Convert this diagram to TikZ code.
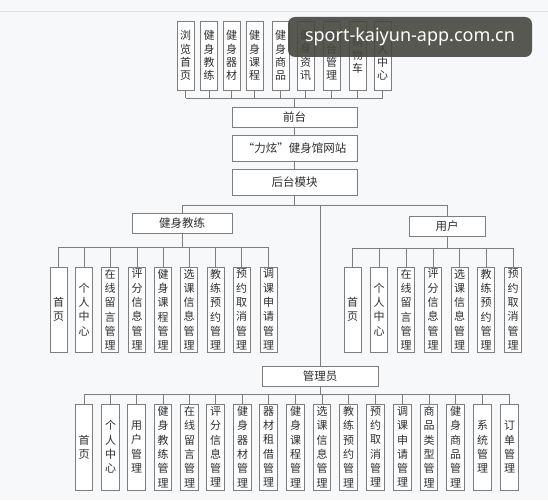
\documentclass[tikz,border=0pt]{standalone}
\usepackage{fontspec}
\newfontfamily\cjk{Noto Sans CJK SC}
\newfontfamily\wmfont{Noto Sans}
\definecolor{bg}{HTML}{F7F8F9}
\definecolor{ln}{HTML}{7E7E7E}
\definecolor{tx}{HTML}{2E2E2E}
\definecolor{wm}{HTML}{45473F}
\tikzset{
  box/.style={draw=ln, line width=0.8pt, fill=white, inner sep=0pt, text=tx,
    font=\cjk\fontsize{11}{14.3}\selectfont, align=center},
  vbox/.style={box, minimum width=17pt, minimum height=85pt},
  tbox/.style={box, minimum width=17pt, minimum height=69pt, font=\cjk\fontsize{11}{13.3}\selectfont},
  abox/.style={box, minimum width=17.5pt, minimum height=86pt},
  hbox/.style={box, minimum height=20pt, font=\cjk\fontsize{11.5}{14}\selectfont},
  conn/.style={draw=ln, line width=0.8pt},
}
\begin{document}
\begin{tikzpicture}[x=1pt,y=-1pt]
\fill[bg] (0,0) rectangle (548,500);
\useasboundingbox (0,0) rectangle (548,500);
\draw[black!12, line width=0.8pt] (0,11) -- (548,11);
% top row
\node[tbox] (t1) at (185.5,55.5) {浏\\览\\首\\页};
\node[tbox] (t2) at (209,55.5) {健\\身\\教\\练};
\node[tbox] (t3) at (231.5,55.5) {健\\身\\器\\材};
\node[tbox] (t4) at (254.5,55.5) {健\\身\\课\\程};
\node[tbox] (t5) at (280.5,55.5) {健\\身\\商\\品};
\node[tbox] (t6) at (305.5,55.5) {健\\身\\资\\讯};
\node[tbox] (t7) at (331.5,55.5) {后\\台\\管\\理};
\node[tbox] (t8) at (357.5,55.5) {购\\物\\车};
\node[tbox] (t9) at (382.5,55.5) {个\\人\\中\\心};
% spine
\node[hbox, minimum width=125pt] (qt) at (294.5,117) {前台};
\node[hbox, minimum width=125pt, minimum height=26pt] (site) at (294.5,148) {“力炫”健身馆网站};
\node[hbox, minimum width=125pt, minimum height=26pt] (ht) at (294.5,182) {后台模块};
\node[hbox, minimum width=100pt] (coach) at (182,223) {健身教练};
\node[hbox, minimum width=76pt] (user) at (447,226) {用户};
\node[hbox, minimum width=116pt] (admin) at (320,376) {管理员};
% coach children
\node[vbox] (c1) at (58.5,309.5) {首\\页};
\node[vbox] (c2) at (84,309.5) {个\\人\\中\\心};
\node[vbox] (c3) at (110,309.5) {在\\线\\留\\言\\管\\理};
\node[vbox] (c4) at (137,309.5) {评\\分\\信\\息\\管\\理};
\node[vbox] (c5) at (163,309.5) {健\\身\\课\\程\\管\\理};
\node[vbox] (c6) at (189,309.5) {选\\课\\信\\息\\管\\理};
\node[vbox] (c7) at (215.5,309.5) {教\\练\\预\\约\\管\\理};
\node[vbox] (c8) at (241.5,309.5) {预\\约\\取\\消\\管\\理};
\node[vbox] (c9) at (268.5,309.5) {调\\课\\申\\请\\管\\理};
% user children
\node[vbox] (u1) at (352.5,309.5) {首\\页};
\node[vbox] (u2) at (379,309.5) {个\\人\\中\\心};
\node[vbox] (u3) at (406,309.5) {在\\线\\留\\言\\管\\理};
\node[vbox] (u4) at (433,309.5) {评\\分\\信\\息\\管\\理};
\node[vbox] (u5) at (459.5,309.5) {选\\课\\信\\息\\管\\理};
\node[vbox] (u6) at (486,309.5) {教\\练\\预\\约\\管\\理};
\node[vbox] (u7) at (513,309.5) {预\\约\\取\\消\\管\\理};
% admin children
\node[abox] (a1) at (84,447) {首\\页};
\node[abox] (a2) at (110.5,447) {个\\人\\中\\心};
\node[abox] (a3) at (136.5,447) {用\\户\\管\\理};
\node[abox] (a4) at (163,447) {健\\身\\教\\练\\管\\理};
\node[abox] (a5) at (189.5,447) {在\\线\\留\\言\\管\\理};
\node[abox] (a6) at (215.5,447) {评\\分\\信\\息\\管\\理};
\node[abox] (a7) at (242.5,447) {健\\身\\器\\材\\管\\理};
\node[abox] (a8) at (268.5,447) {器\\材\\租\\借\\管\\理};
\node[abox] (a9) at (295.5,447) {健\\身\\课\\程\\管\\理};
\node[abox] (a10) at (322,447) {选\\课\\信\\息\\管\\理};
\node[abox] (a11) at (348.5,447) {教\\练\\预\\约\\管\\理};
\node[abox] (a12) at (375.5,447) {预\\约\\取\\消\\管\\理};
\node[abox] (a13) at (402.5,447) {调\\课\\申\\请\\管\\理};
\node[abox] (a14) at (429,447) {商\\品\\类\\型\\管\\理};
\node[abox] (a15) at (455.5,447) {健\\身\\商\\品\\管\\理};
\node[abox] (a16) at (482.5,447) {系\\统\\管\\理};
\node[abox] (a17) at (509.5,447) {订\\单\\管\\理};
% bus coordinates
\coordinate (bt) at (294.5,98);
\coordinate (bh) at (294.5,205);
\coordinate (bc) at (182,247);
\coordinate (bu) at (447,248);
\coordinate (ba) at (320,394);
% top connectors
\foreach \i in {1,...,9} \draw[conn] (t\i.south) -- (t\i.south |- bt);
\draw[conn] (t1.south |- bt) -- (t9.south |- bt);
\draw[conn] (bt) -- (qt.north);
\draw[conn] (qt.south) -- (site.north);
\draw[conn] (site.south) -- (ht.north);
\draw[conn] (ht.south) -- (bh);
\draw[conn] (coach.north |- bh) -- (user.north |- bh);
\draw[conn] (coach.north |- bh) -- (coach.north);
\draw[conn] (user.north |- bh) -- (user.north);
\draw[conn] (admin.north |- bh) -- (admin.north);
% coach
\draw[conn] (coach.south) -- (bc);
\draw[conn] (c1.north |- bc) -- (c9.north |- bc);
\foreach \i in {1,...,9} \draw[conn] (c\i.north |- bc) -- (c\i.north);
% user
\draw[conn] (user.south) -- (bu);
\draw[conn] (u1.north |- bu) -- (u7.north |- bu);
\foreach \i in {1,...,7} \draw[conn] (u\i.north |- bu) -- (u\i.north);
% admin
\draw[conn] (admin.south) -- (ba);
\draw[conn] (a1.north |- ba) -- (a17.north |- ba);
\foreach \i in {1,...,17} \draw[conn] (a\i.north |- ba) -- (a\i.north);
% watermark
\node[fill=wm, fill opacity=0.9, text opacity=1, rounded corners=7pt, minimum width=244pt, minimum height=40pt,
  text=white, font=\wmfont\fontsize{18}{20}\selectfont, inner sep=0pt] (wmk) at (410,37) {sport-kaiyun-app.com.cn};
\end{tikzpicture}
\end{document}
